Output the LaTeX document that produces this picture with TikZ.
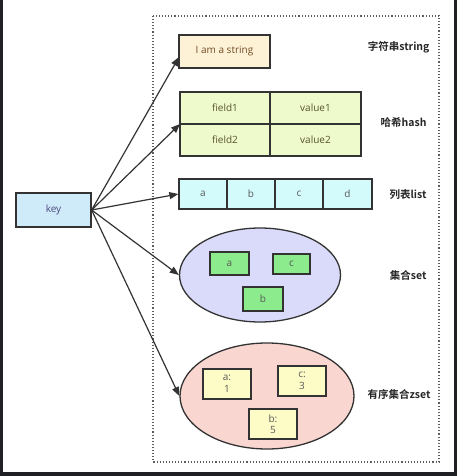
\documentclass[tikz,border=0pt]{standalone}
\usepackage{fontspec}
\setmainfont{Open Sans}
\newfontfamily\cjk{Noto Sans CJK SC}[BoldFont={Noto Sans CJK SC Bold}]
\usetikzlibrary{arrows.meta,shapes.geometric}
\definecolor{strfill}{HTML}{FDF1D6}
\definecolor{hashfill}{HTML}{EFFACC}
\definecolor{listfill}{HTML}{D4FBFB}
\definecolor{keyfill}{HTML}{CFEAF8}
\definecolor{setfill}{HTML}{DADAFA}
\definecolor{itemfill}{HTML}{8CEB8C}
\definecolor{zsetfill}{HTML}{F9D6D0}
\definecolor{zitemfill}{HTML}{FDFBC6}
\definecolor{edge}{HTML}{333333}
\definecolor{frame}{HTML}{1E2024}
\begin{document}
\begin{tikzpicture}[x=1pt,y=-1pt,
  cell/.style={draw=edge,line width=1.3pt,font=\fontsize{10}{11}\selectfont,text=black!65},
  lbl/.style={font=\cjk\bfseries\fontsize{10.5}{12}\selectfont,text=black!85,anchor=east},
  conn/.style={draw=edge,line width=1.2pt,-{Triangle[length=9pt,width=7pt]}}]
\fill[frame] (0,0) rectangle (457,476);
\fill[white] (3,0) rectangle (454,472);
\useasboundingbox (0,0) rectangle (457,476);
% dotted container
\draw[edge!80,line width=1.1pt,dotted] (153,16) rectangle (439,462);
% key
\node[cell,fill=keyfill,text=blue!30!black!70,minimum width=75pt,minimum height=34pt] (key) at (53.5,210) {key};
% string
\node[cell,fill=strfill,text=brown!60!black,minimum width=91pt,minimum height=33pt] (str) at (224.5,51.5) {I am a string};
% hash
\node[cell,fill=hashfill,text=olive!50!black,minimum width=90pt,minimum height=32pt] (h11) at (225,108) {field1};
\node[cell,fill=hashfill,text=olive!50!black,minimum width=91pt,minimum height=32pt] (h12) at (315.5,108) {value1};
\node[cell,fill=hashfill,text=olive!50!black,minimum width=90pt,minimum height=32pt] (h21) at (225,140) {field2};
\node[cell,fill=hashfill,text=olive!50!black,minimum width=91pt,minimum height=32pt] (h22) at (315.5,140) {value2};
\coordinate (hashw) at (180,124);
% list
\node[cell,fill=listfill,minimum width=48pt,minimum height=30pt] (la) at (203,194) {a};
\node[cell,fill=listfill,minimum width=48pt,minimum height=30pt] (lb) at (251,194) {b};
\node[cell,fill=listfill,minimum width=48pt,minimum height=30pt] (lc) at (299,194) {c};
\node[cell,fill=listfill,minimum width=49pt,minimum height=30pt] (ld) at (347.5,194) {d};
% set
\node[ellipse,draw=edge,line width=1.3pt,fill=setfill,minimum width=161pt,minimum height=94pt] (set) at (260,275) {};
\node[cell,fill=itemfill,minimum width=39pt,minimum height=23pt] (sa) at (229.5,263.5) {a};
\node[cell,fill=itemfill,minimum width=37pt,minimum height=20pt] (sc) at (291.5,264) {c};
\node[cell,fill=itemfill,minimum width=40pt,minimum height=24pt] (sb) at (263,299) {b};
% zset
\node[ellipse,draw=edge,line width=1.3pt,fill=zsetfill,minimum width=174pt,minimum height=106pt] (zset) at (267,396) {};
\node[cell,fill=zitemfill,minimum width=48pt,minimum height=30pt,inner sep=1pt,align=center,font=\fontsize{10}{11.5}\selectfont] (za) at (227,384) {a:\\1};
\node[cell,fill=zitemfill,minimum width=48pt,minimum height=30pt,inner sep=1pt,align=center,font=\fontsize{10}{11.5}\selectfont] (zc) at (302,381) {c:\\3};
\node[cell,fill=zitemfill,minimum width=48pt,minimum height=30pt,inner sep=1pt,align=center,font=\fontsize{10}{11.5}\selectfont] (zb) at (273,424) {b:\\5};
% labels
\node[lbl] (lstr) at (433,47) {字符串string};
\node[lbl] (lhash) at (430,122) {哈希hash};
\node[lbl] (llist) at (430,195) {列表list};
\node[lbl] (lset) at (430,275) {集合set};
\node[lbl] (lzset) at (434,394) {有序集合zset};
% connectors
\coordinate (src) at (key.east);
\coordinate (strw) at (179,57);
\draw[conn] (src) -- (strw);
\draw[conn] (src) -- (hashw);
\draw[conn] (src) -- (la.west);
\draw[conn] (src) -- (set.west);
\draw[conn] (src) -- (zset.west);
\end{tikzpicture}
\end{document}
